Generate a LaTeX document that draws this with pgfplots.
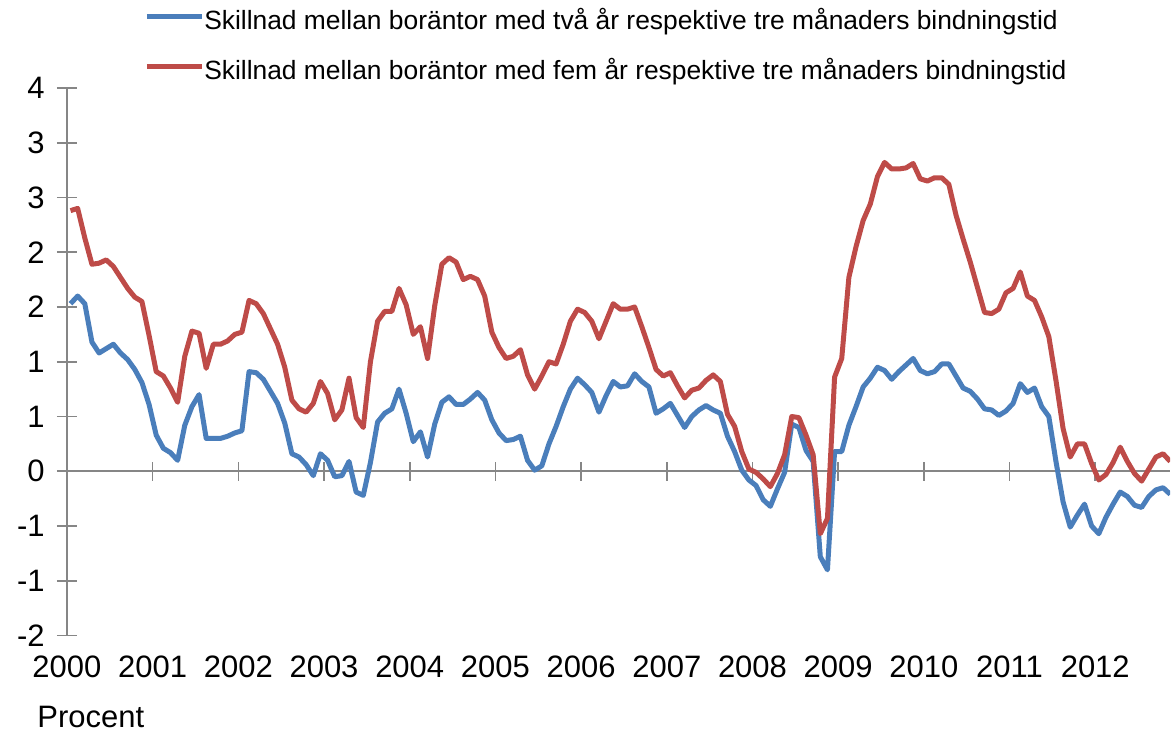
\documentclass[border=0pt]{standalone}
\usepackage{fontspec}
\setmainfont{Liberation Sans}
\usepackage{pgfplots}
\pgfplotsset{compat=1.18}
\usepackage{pgfplotstable}
\definecolor{sblue}{RGB}{74,126,187}
\definecolor{sred}{RGB}{190,75,72}
\definecolor{axgray}{RGB}{134,134,134}

\pgfplotstableread{
i blue red
0 1.53 2.38
1 1.60 2.40
2 1.53 2.13
3 1.18 1.89
4 1.08 1.90
5 1.12 1.93
6 1.16 1.87
7 1.08 1.77
8 1.02 1.67
9 0.93 1.59
10 0.81 1.55
11 0.61 1.24
12 0.33 0.91
13 0.21 0.87
14 0.17 0.76
15 0.10 0.63
16 0.42 1.05
17 0.59 1.28
18 0.70 1.26
19 0.30 0.94
20 0.30 1.16
21 0.30 1.16
22 0.32 1.19
23 0.35 1.25
24 0.37 1.27
25 0.91 1.56
26 0.90 1.53
27 0.84 1.44
28 0.73 1.30
29 0.62 1.16
30 0.44 0.95
31 0.16 0.65
32 0.13 0.57
33 0.06 0.54
34 -0.04 0.62
35 0.16 0.82
36 0.10 0.71
37 -0.05 0.47
38 -0.04 0.56
39 0.09 0.85
40 -0.19 0.49
41 -0.22 0.40
42 0.08 1.00
43 0.45 1.37
44 0.53 1.46
45 0.57 1.46
46 0.75 1.67
47 0.53 1.52
48 0.27 1.25
49 0.36 1.32
50 0.13 1.03
51 0.43 1.51
52 0.63 1.89
53 0.68 1.95
54 0.61 1.91
55 0.61 1.75
56 0.66 1.78
57 0.72 1.75
58 0.65 1.60
59 0.47 1.27
60 0.35 1.13
61 0.28 1.03
62 0.29 1.05
63 0.32 1.11
64 0.10 0.88
65 0.01 0.75
66 0.05 0.87
67 0.25 1.00
68 0.41 0.98
69 0.59 1.16
70 0.75 1.37
71 0.85 1.48
72 0.79 1.45
73 0.72 1.37
74 0.54 1.21
75 0.69 1.37
76 0.82 1.53
77 0.77 1.48
78 0.78 1.48
79 0.89 1.50
80 0.82 1.32
81 0.77 1.13
82 0.53 0.93
83 0.57 0.87
84 0.62 0.90
85 0.51 0.78
86 0.40 0.67
87 0.50 0.74
88 0.56 0.76
89 0.60 0.83
90 0.56 0.88
91 0.53 0.82
92 0.32 0.52
93 0.18 0.41
94 0.01 0.18
95 -0.08 0.02
96 -0.13 -0.01
97 -0.26 -0.07
98 -0.32 -0.14
99 -0.16 -0.02
100 -0.01 0.15
101 0.43 0.50
102 0.40 0.49
103 0.19 0.33
104 0.09 0.15
105 -0.78 -0.57
106 -0.90 -0.43
107 0.18 0.86
108 0.18 1.03
109 0.42 1.77
110 0.59 2.05
111 0.77 2.29
112 0.85 2.44
113 0.95 2.69
114 0.92 2.82
115 0.84 2.76
116 0.91 2.76
117 0.97 2.77
118 1.03 2.81
119 0.92 2.67
120 0.89 2.65
121 0.91 2.68
122 0.98 2.68
123 0.98 2.62
124 0.87 2.34
125 0.76 2.12
126 0.73 1.91
127 0.66 1.68
128 0.57 1.45
129 0.56 1.44
130 0.51 1.48
131 0.55 1.63
132 0.62 1.67
133 0.80 1.82
134 0.72 1.60
135 0.76 1.56
136 0.59 1.41
137 0.50 1.23
138 0.09 0.83
139 -0.28 0.39
140 -0.51 0.13
141 -0.40 0.25
142 -0.30 0.25
143 -0.50 0.07
144 -0.57 -0.08
145 -0.42 -0.03
146 -0.30 0.08
147 -0.19 0.22
148 -0.23 0.09
149 -0.31 -0.02
150 -0.33 -0.09
151 -0.23 0.02
152 -0.17 0.13
153 -0.15 0.16
154 -0.21 0.09
}\data

\begin{document}
\begin{tikzpicture}
% zero line with year ticks
\begin{axis}[
  scale only axis, width=552pt, height=274pt,
  xmin=-0.5, xmax=154, ymin=-1.5, ymax=3.5,
  axis x line*=middle, axis y line=none,
  xtick={11.5,23.5,...,143.5}, xticklabels={}, ytick=\empty,
  tick align=center, major tick length=9.5pt,
  x axis line style={axgray, line width=0.8pt},
  xtick style={axgray, line width=0.8pt},
]
\end{axis}
\begin{axis}[
  name=main,
  scale only axis, width=552pt, height=274pt,
  xmin=-0.5, xmax=154, ymin=-1.5, ymax=3.5,
  clip mode=individual,
  axis x line*=bottom, axis y line*=left,
  x axis line style={draw=none},
  y axis line style={axgray, line width=0.8pt},
  xtick={-0.5,11.5,...,143.5},
  xticklabels={2000,2001,2002,2003,2004,2005,2006,2007,2008,2009,2010,2011,2012},
  xtick style={draw=none},
  ytick={-1.5,-1,-0.5,0,0.5,1,1.5,2,2.5,3,3.5},
  yticklabels={-2,-1,-1,0,1,1,2,2,3,3,4},
  ytick style={axgray, line width=0.8pt},
  tick align=center, major tick length=10pt,
  /pgf/number format/assume math mode=true,
  tick label style={font=\fontsize{15.5}{18}\selectfont},
  xticklabel style={inner sep=0pt, anchor=north, yshift=-5pt},
  yticklabel style={inner sep=0pt, anchor=east, xshift=-6pt},
  legend style={at={(rel axis cs:0,1)}, anchor=south west, xshift=38.5pt, yshift=0.5pt,
    draw=none, fill=none, inner sep=0pt, row sep=11.5pt, column sep=0pt,
    font=\fontsize{13.2}{16}\selectfont,
    nodes={inner sep=0pt, text height=10pt, text depth=3.5pt}},
  legend cell align=left,
  legend image code/.code={\draw[#1, line width=2.5pt] (0pt,3.25pt) -- (27.5pt,3.25pt);},
]
\addplot[sblue, line width=2.5pt, line join=round] table[x=i, y=blue] {\data};
\addlegendentry{Skillnad mellan boräntor med två år respektive tre månaders bindningstid}
\addplot[sred, line width=2.5pt, line join=round] table[x=i, y=red] {\data};
\addlegendentry{Skillnad mellan boräntor med fem år respektive tre månaders bindningstid}
\end{axis}
\node[anchor=south west, inner sep=0pt, xshift=-15pt, yshift=-46.5pt, font=\fontsize{15.5}{18}\selectfont] at (main.south west) {Procent};
\path ([xshift=-33.5pt, yshift=-48.5pt]main.south west) -- ([xshift=-33.5pt, yshift=44pt]main.north west);
\end{tikzpicture}
\end{document}
